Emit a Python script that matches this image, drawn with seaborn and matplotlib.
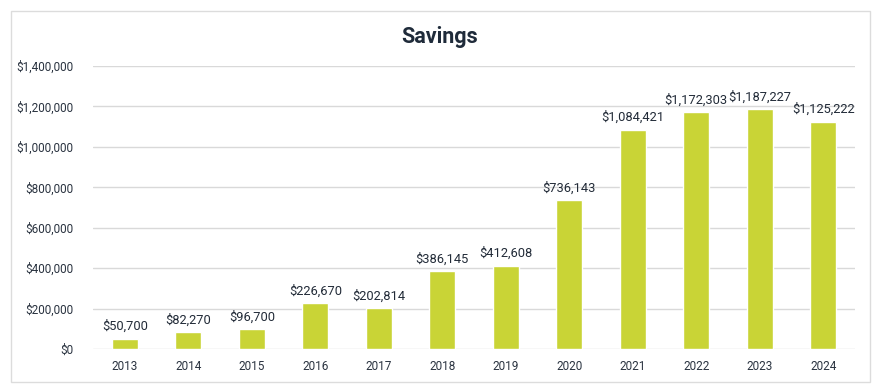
import numpy as np
import pandas as pd
import matplotlib
matplotlib.use("Agg")
import matplotlib.pyplot as plt
import matplotlib.ticker as mticker
from matplotlib.patches import Rectangle
import seaborn as sns

years = ["2013", "2014", "2015", "2016", "2017", "2018", "2019", "2020", "2021", "2022", "2023", "2024"]
savings = [50700, 82270, 96700, 226670, 202814, 386145, 412608, 736143, 1084421, 1172303, 1187227, 1125222]

sns.set_theme(style="white")
plt.rcParams['font.family'] = ['Roboto', 'DejaVu Sans']

df = pd.DataFrame({"year": years, "savings": savings})

fig = plt.figure(figsize=(8.8, 3.91), dpi=100)
ax = fig.add_axes([93/880, 42/391, (855-93)/880, (349-66)/391])

# outer frame
fig.patches.append(Rectangle((11/880, 9/391), 859/880, 371/391, transform=fig.transFigure,
                             fill=False, edgecolor="#dcdcdc", linewidth=1))

sns.barplot(data=df, x="year", y="savings", color="#c9d436", saturation=1, width=0.41, ax=ax, zorder=3)

ax.set_ylim(0, 1400000)
ax.set_xlim(-0.5, 11.5)
ax.yaxis.set_major_locator(mticker.MultipleLocator(200000))
ax.yaxis.set_major_formatter(mticker.FuncFormatter(lambda v, p: "${:,.0f}".format(v)))
ax.grid(axis="y", color="#d9d9d9", linewidth=1, zorder=0)
for s in ax.spines.values():
    s.set_visible(False)
ax.set_xlabel("")
ax.set_ylabel("")
ax.tick_params(axis="both", length=0, labelsize=8.5, colors="#2a3340")
ax.tick_params(axis="x", pad=8)
ax.tick_params(axis="y", pad=14)

for c in ax.containers:
    ax.bar_label(c, labels=["${:,.0f}".format(v) for v in savings], padding=4, fontsize=9.3, color="#222b38")

fig.text(0.5, 0.905, "Savings", ha="center", va="center", fontsize=15.5, fontweight="bold", color="#1f2b3a")

fig.savefig("out.png", dpi=100)
